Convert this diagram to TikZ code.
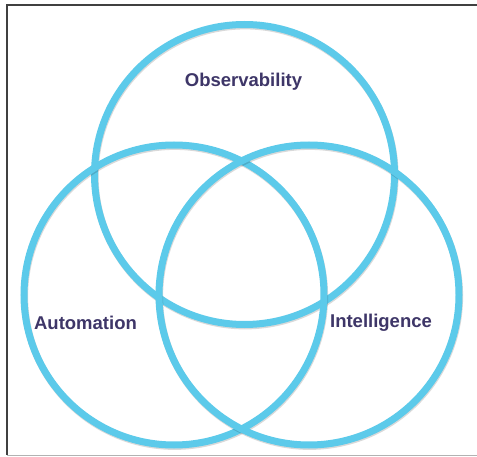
\documentclass[tikz,border=0pt]{standalone}
\usepackage{fontspec}
\setmainfont{Liberation Sans}
\begin{document}
\definecolor{ringblue}{RGB}{92,202,234}
\definecolor{labelink}{RGB}{62,54,104}
\begin{tikzpicture}[x=1pt,y=-1pt,
  ring/.style={draw=ringblue,line width=7pt},
  ringshadow/.style={draw=black,opacity=0.15,line width=7pt},
  label/.style={font=\bfseries\fontsize{18.5}{20}\selectfont,text=labelink,anchor=base,inner sep=0pt}]
  \useasboundingbox (0,0) rectangle (477,457);
  \fill[white] (0,0) rectangle (477,457);
  % frame lines
  \draw[line width=1.6pt,black!75] (7,455) -- (7,5) -- (477,5);
  \draw[line width=1pt,black!30] (7,455) -- (477,455);
  % circle centres
  \coordinate (ctop) at (244.5,174.5);
  \coordinate (cleft) at (174,295);
  \coordinate (cright) at (309,295);
  % rings with soft shadow
  \foreach \c in {ctop,cleft,cright}{
    \draw[ringshadow] ([shift={(0.6,1.4)}]\c) circle[radius=150];
    \draw[ring] (\c) circle[radius=150];
  }
  % labels
  \node[label] (obs) at (243.5,86.7) {Observability};
  \node[label] (aut) at (85.5,330) {Automation};
  \node[label] (int) at (381,327.5) {Intelligence};
\end{tikzpicture}
\end{document}
